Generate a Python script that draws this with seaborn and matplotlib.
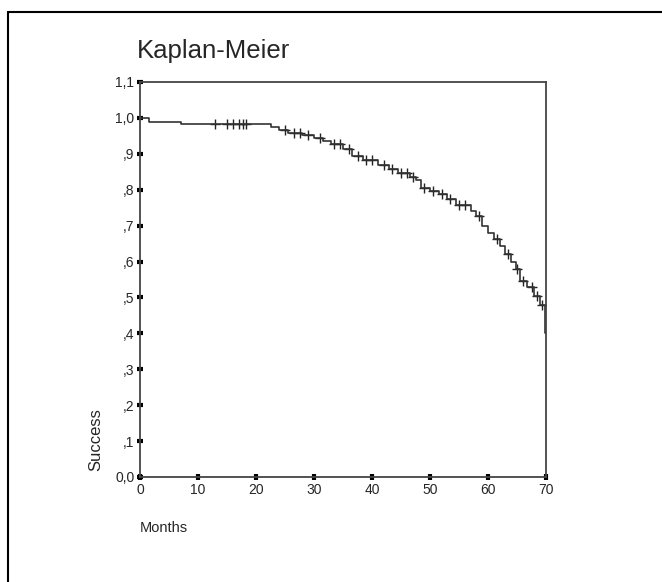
import numpy as np
import pandas as pd
import seaborn as sns
import matplotlib.pyplot as plt
from matplotlib.lines import Line2D

# Kaplan-Meier step data
event_months = [0, 1.5, 7, 22.5, 24, 25.5, 28, 30, 31.5, 33, 35, 36.5, 38.5, 41, 43,
                44.5, 46.5, 47.5, 48.5, 50, 51.5, 53, 54.5, 57, 58, 59, 60, 61, 62,
                63, 64, 64.8, 65.5, 66.8, 68, 69, 69.8, 70]
success = [1.0, 0.99, 0.983, 0.975, 0.966, 0.958, 0.952, 0.944, 0.935, 0.927, 0.914,
           0.894, 0.882, 0.868, 0.857, 0.847, 0.836, 0.828, 0.806, 0.797, 0.787,
           0.775, 0.757, 0.742, 0.728, 0.70, 0.68, 0.662, 0.644, 0.622, 0.60, 0.578,
           0.545, 0.528, 0.505, 0.478, 0.40, 0.40]

# censored observations (+ marks)
censor_months = [13, 15, 16, 17, 17.7, 18.3, 25, 26.5, 27.5, 29, 31, 33.5, 34.5, 36,
                 37.5, 39, 40, 42, 43.5, 45, 46, 47, 49, 50.5, 52, 53.5, 55, 56,
                 58.5, 61.5, 63.5, 65, 66, 67.5, 68.5, 69.3]

y_ticks = [0.0, 0.1, 0.2, 0.3, 0.4, 0.5, 0.6, 0.7, 0.8, 0.9, 1.0, 1.1]
y_tick_labels = ["0,0", ",1", ",2", ",3", ",4", ",5", ",6", ",7", ",8", ",9", "1,0", "1,1"]
x_ticks = [0, 10, 20, 30, 40, 50, 60, 70]

sns.set_style("ticks")
plt.rcParams['font.family'] = ['Liberation Sans', 'DejaVu Sans']

df = pd.DataFrame({"Months": event_months, "Success": success})

# level of the step curve at each censor time
idx = np.searchsorted(event_months, censor_months, side="right") - 1
cens = pd.DataFrame({"Months": censor_months,
                     "Success": np.array(success)[idx]})

fig = plt.figure(figsize=(6.62, 5.82), dpi=100)
# axes box: x 140..546 px, y 82..477 px
ax = fig.add_axes([140 / 662, 1 - 477 / 582, 406 / 662, 395 / 582])

sns.lineplot(data=df, x="Months", y="Success", ax=ax, estimator=None,
             drawstyle="steps-post", color="#333333", linewidth=1.2)
sns.scatterplot(data=cens, x="Months", y="Success", ax=ax, marker="+",
                color="#222222", s=45, linewidth=1.0)

ax.set_xlim(0, 70)
ax.set_ylim(0, 1.1)
ax.set_xticks(x_ticks)
ax.set_yticks(y_ticks)
ax.set_yticklabels(y_tick_labels)
ax.tick_params(axis="both", direction="inout", length=4, width=3, labelsize=10,
               pad=2, color="black")
for s in ax.spines.values():
    s.set_linewidth(1.3)
    s.set_color("#444444")

ax.set_ylabel("Success", fontsize=12)
ax.yaxis.set_label_coords(-0.09, 0.095)
ax.set_xlabel("")

fig.text(140 / 662, 1 - 528 / 582, "Months", fontsize=10.5, va="center", ha="left")
fig.text(137 / 662, 1 - 51 / 582, "Kaplan-Meier", fontsize=18.5, va="center", ha="left")

# scanned frame: top and left edges only
fig.add_artist(Line2D([8 / 662, 1], [1 - 12 / 582] * 2, transform=fig.transFigure,
                      color="black", linewidth=1.5))
fig.add_artist(Line2D([8 / 662] * 2, [0, 1 - 12 / 582], transform=fig.transFigure,
                      color="black", linewidth=1.5))

fig.savefig("out.png", dpi=100)
